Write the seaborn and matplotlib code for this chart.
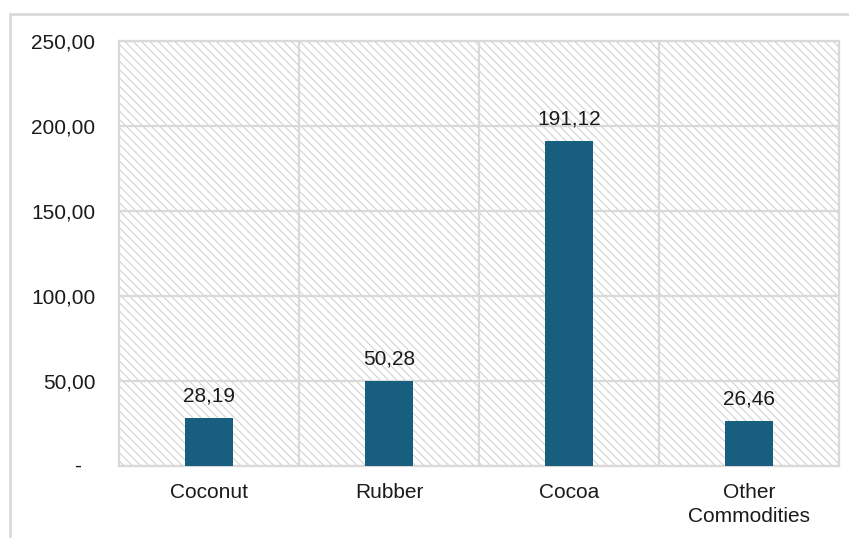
import matplotlib
matplotlib.use("Agg")
import matplotlib.pyplot as plt
import seaborn as sns
import pandas as pd
from matplotlib.patches import Rectangle

categories = ["Coconut", "Rubber", "Cocoa", "Other\nCommodities"]
values = [28.19, 50.28, 191.12, 26.46]
yticks = [0, 50, 100, 150, 200, 250]
ytick_labels = ["-", "50,00", "100,00", "150,00", "200,00", "250,00"]

sns.set_theme(style="white")
plt.rcParams['font.family'] = ['Liberation Sans', 'DejaVu Sans']
plt.rcParams['hatch.linewidth'] = 0.8
plt.rcParams['hatch.color'] = '#D2D2D2'

FS = 15
TXT = '#1a1a1a'
W, H = 849, 538
fig = plt.figure(figsize=(W / 100, H / 100), dpi=100)
ax = fig.add_axes([119 / W, 1 - 466 / H, (839 - 119) / W, (466 - 41) / H])

# outer frame
fig.patches.append(Rectangle((9.5 / W, -0.1), 1.2, 1.1 - 14.5 / H, transform=fig.transFigure,
                             fill=False, edgecolor='#D9D9D9', linewidth=2, zorder=0))

df = pd.DataFrame({"cat": categories, "val": values})
# hatched background
ax.add_patch(Rectangle((0, 0), 1, 1, transform=ax.transAxes, facecolor='white',
                       edgecolor='#D2D2D2', hatch='\\\\\\\\', linewidth=0, zorder=0))

sns.barplot(data=df, x="cat", y="val", color="#175E7F", width=0.27, saturation=1,
            ax=ax, zorder=3)
for p in ax.patches[1:]:
    p.set_edgecolor('none')

ax.set_ylim(0, 250)
ax.set_xlim(-0.5, 3.5)
ax.set_yticks(yticks)
ax.set_yticklabels([""] + ytick_labels[1:], fontsize=FS, color=TXT)
ax.tick_params(axis='y', length=0, pad=17)
ax.tick_params(axis='x', length=0, pad=12, labelsize=FS, labelcolor=TXT)
for lab in ax.get_xticklabels():
    lab.set_linespacing(1.35)
ax.set_xlabel("")
ax.set_ylabel("")

# zero label as dash (accounting style)
ax.annotate(ytick_labels[0], xy=(0, yticks[0]), xycoords=('axes fraction', 'data'),
            xytext=(-38 * 0.72, 0), textcoords='offset points', ha='right', va='center',
            fontsize=FS, color=TXT)

for y in yticks:
    ax.axhline(y, color='#D9D9D9', linewidth=1.6, zorder=1)
for x in [0.5, 1.5, 2.5]:
    ax.axvline(x, color='#D9D9D9', linewidth=1.6, zorder=1)
for s in ax.spines.values():
    s.set_visible(True)
    s.set_color('#D9D9D9')
    s.set_linewidth(1.6)

for i, v in enumerate(values):
    ax.annotate(f"{v:.2f}".replace('.', ','), (i, v), xytext=(0, 9), textcoords='offset points',
                ha='center', va='bottom', fontsize=FS, color=TXT, zorder=4)

fig.savefig("out.png", dpi=100)
